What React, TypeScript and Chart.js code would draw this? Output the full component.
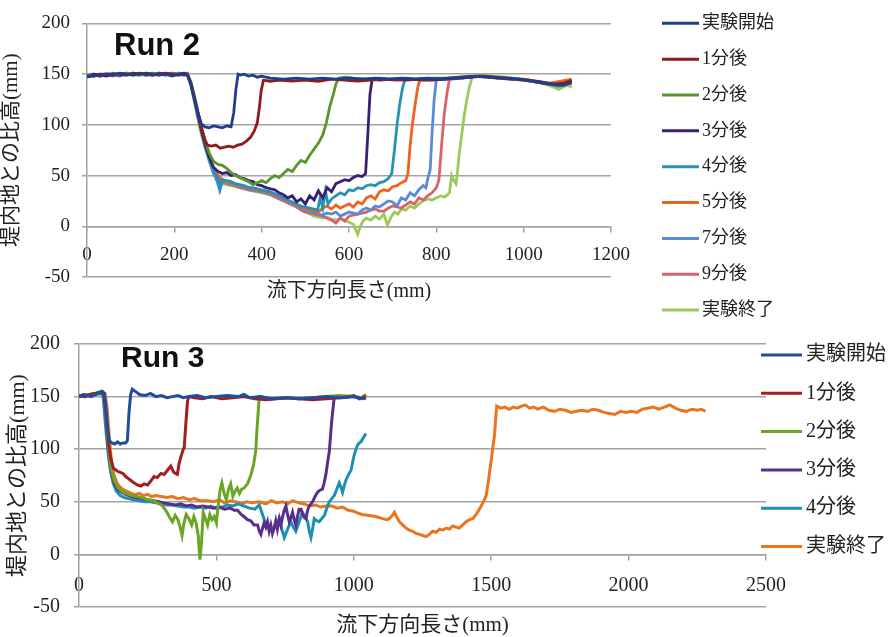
import React, { useEffect, useRef } from 'react';
import { Chart, registerables } from 'chart.js';

Chart.register(...registerables);

const FONT = "'Liberation Serif', 'Noto Sans CJK JP', serif";
const GRID = '#a3a3a3';
const TEXT = '#222222';
const Y_TITLE = '堤内地との比高(mm)';
const X_TITLE = '流下方向長さ(mm)';

type P = [number, number];

// ---------------- Run 2 ----------------
const RUN2_LABELS = ['実験開始', '1分後', '2分後', '3分後', '4分後', '5分後', '7分後', '9分後', '実験終了'];
const RUN2_COLORS = ['#1F3C8F', '#8E1B1E', '#5A962B', '#3A1F73', '#2793B4', '#EB6420', '#5B8BD6', '#D8636B', '#9ACA5C'];

const R2_START: P[] = [[0,147],[15,149],[30,148],[45,150],[60,149],[75,151],[90,150],[105,149],[120,150],[135,151],[150,150],[165,149],[180,150],[195,148],[210,150],[222,151],[230,149],[238,140],[246,126],[254,112],[262,101],[270,98],[280,97],[290,99],[300,98],[310,97],[320,99],[330,98],[336,112],[341,135],[346,150],[352,149],[360,150],[370,148],[380,149],[390,147],[400,148],[420,146],[450,145],[480,146],[510,145],[540,146],[570,145],[600,146],[630,145],[660,146],[690,145],[720,146],[750,145],[780,146],[810,145],[840,146],[870,147],[900,148],[930,147],[960,146],[990,145],[1020,143],[1050,141],[1070,140],[1090,139],[1110,142]];
const R2_M1: P[] = [[0,148],[15,148],[30,150],[45,149],[60,150],[75,150],[90,149],[105,150],[120,151],[135,150],[150,149],[165,150],[180,151],[195,150],[210,149],[222,150],[230,149],[238,141],[246,127],[254,112],[262,97],[270,85],[276,80],[285,79],[295,80],[305,77],[315,78],[325,79],[335,78],[345,80],[355,81],[365,84],[375,88],[383,94],[390,102],[395,118],[399,134],[404,144],[420,143],[440,144],[470,143],[500,144],[530,143],[560,145],[590,144],[620,143],[650,144],[680,145],[710,144],[740,145],[770,144],[800,145],[830,146],[860,147],[890,148],[920,147],[950,146],[980,145],[1010,144],[1040,142],[1070,140],[1090,141],[1110,144]];
const R2_M2: P[] = [[0,149],[15,148],[30,149],[45,150],[60,149],[75,150],[90,151],[105,150],[120,149],[135,150],[150,151],[165,150],[180,149],[195,150],[210,151],[222,149],[230,150],[238,142],[246,128],[254,113],[262,98],[270,86],[280,72],[290,64],[300,61],[310,60],[320,57],[330,53],[340,50],[350,48],[360,46],[370,44],[380,41],[390,43],[400,45],[410,43],[420,47],[430,50],[440,48],[450,52],[460,56],[470,54],[480,60],[490,65],[500,63],[510,70],[520,76],[530,82],[540,90],[548,102],[556,118],[564,130],[570,140],[576,146],[590,147],[610,146],[640,145],[670,146],[700,145],[730,146],[760,145],[790,146],[820,146],[850,147],[880,148],[910,147],[940,146],[970,145],[1000,144],[1030,142],[1060,140],[1085,139],[1110,141]];
const R2_M3: P[] = [[0,148],[15,150],[30,149],[45,148],[60,150],[75,149],[90,150],[105,151],[120,150],[135,149],[150,150],[165,151],[180,150],[195,149],[210,150],[222,151],[230,150],[238,141],[246,126],[254,110],[262,95],[270,82],[280,68],[290,58],[300,54],[310,52],[320,53],[330,50],[340,51],[350,48],[360,47],[370,45],[380,44],[390,41],[400,40],[410,38],[420,37],[430,36],[440,33],[450,31],[460,28],[470,30],[480,24],[490,27],[500,22],[510,30],[520,26],[530,35],[540,28],[550,38],[560,34],[570,42],[580,44],[590,46],[600,45],[610,48],[620,50],[630,49],[638,52],[643,90],[648,130],[653,145],[670,144],[700,145],[730,144],[760,145],[790,144],[820,145],[850,146],[880,147],[910,148],[940,146],[970,145],[1000,144],[1030,142],[1060,140],[1085,139],[1110,143]];
const R2_M4: P[] = [[0,149],[15,150],[30,148],[45,149],[60,151],[75,150],[90,149],[105,150],[120,150],[135,151],[150,149],[165,150],[180,150],[195,151],[210,150],[222,149],[230,150],[238,140],[246,125],[254,109],[262,94],[270,80],[280,66],[290,54],[300,47],[305,38],[310,46],[320,45],[330,44],[340,42],[350,41],[360,40],[370,38],[380,38],[390,37],[400,36],[410,35],[420,34],[430,32],[440,30],[450,28],[460,26],[470,24],[480,22],[490,20],[500,19],[510,18],[520,17],[528,16],[534,28],[540,18],[546,35],[552,22],[560,27],[570,30],[580,33],[590,31],[600,36],[610,35],[620,38],[630,37],[640,40],[650,41],[660,40],[670,43],[680,44],[690,47],[698,52],[704,75],[710,100],[716,120],[722,135],[728,145],[750,145],[780,144],[810,145],[840,146],[870,147],[900,148],[930,147],[960,146],[990,145],[1020,143],[1050,141],[1080,138],[1110,141]];
const R2_M5: P[] = [[0,148],[15,149],[30,150],[45,149],[60,148],[75,150],[90,151],[105,149],[120,150],[135,150],[150,149],[165,151],[180,150],[195,149],[210,150],[222,150],[230,149],[238,140],[246,126],[254,110],[262,95],[270,81],[280,68],[290,56],[300,50],[310,46],[320,44],[330,42],[340,41],[350,40],[360,39],[370,38],[380,37],[390,36],[400,35],[410,34],[420,33],[430,31],[440,29],[450,27],[460,25],[470,23],[480,21],[490,19],[500,17],[510,16],[520,15],[530,14],[540,18],[550,20],[560,17],[570,21],[580,18],[590,20],[600,22],[610,19],[620,24],[630,22],[640,28],[650,30],[660,27],[670,34],[680,36],[690,35],[700,39],[710,40],[720,43],[730,45],[735,52],[740,80],[745,100],[752,122],[758,138],[764,146],[790,145],[820,145],[850,146],[880,147],[910,148],[940,147],[970,146],[1000,145],[1030,143],[1060,141],[1085,143],[1110,145]];
const R2_M7: P[] = [[0,149],[15,148],[30,150],[45,150],[60,149],[75,148],[90,150],[105,151],[120,150],[135,149],[150,150],[165,150],[180,149],[195,151],[210,150],[222,149],[230,150],[238,139],[246,124],[254,108],[262,93],[270,79],[280,65],[290,52],[298,44],[304,35],[310,44],[320,43],[330,41],[340,40],[350,39],[360,38],[370,37],[380,36],[390,35],[400,34],[410,33],[420,32],[430,30],[440,28],[450,26],[460,24],[470,22],[480,20],[490,17],[500,15],[510,14],[520,13],[530,12],[540,11],[550,13],[560,12],[570,14],[580,10],[590,12],[600,14],[610,13],[620,12],[630,16],[640,18],[650,16],[660,20],[670,19],[680,22],[690,25],[700,24],[710,20],[720,28],[730,26],[740,33],[750,30],[760,36],[770,40],[776,38],[781,48],[786,56],[790,90],[795,125],[800,145],[830,145],[860,146],[890,148],[920,147],[950,146],[980,145],[1010,144],[1040,142],[1070,140],[1090,141],[1110,143]];
const R2_M9: P[] = [[0,148],[15,149],[30,149],[45,150],[60,150],[75,149],[90,151],[105,150],[120,149],[135,150],[150,150],[165,149],[180,151],[195,150],[210,149],[222,150],[230,151],[238,141],[246,125],[254,109],[262,94],[270,80],[280,66],[290,53],[300,47],[310,44],[320,42],[330,41],[340,40],[350,38],[360,37],[370,36],[380,35],[390,35],[400,34],[410,33],[420,31],[430,29],[440,27],[450,25],[460,23],[470,21],[480,19],[490,16],[500,14],[510,13],[520,12],[530,11],[540,10],[550,8],[560,6],[570,3],[580,8],[590,5],[600,10],[610,11],[620,12],[630,13],[640,14],[650,16],[660,17],[670,15],[680,15],[690,18],[700,20],[710,19],[720,18],[730,21],[740,24],[750,22],[760,28],[770,26],[780,30],[790,33],[800,38],[806,46],[812,80],[818,110],[824,130],[830,145],[860,146],[890,148],[920,147],[950,146],[980,145],[1010,144],[1040,142],[1070,140],[1090,142],[1110,144]];
const R2_END: P[] = [[0,148],[15,150],[30,149],[45,151],[60,150],[75,149],[90,150],[105,150],[120,151],[135,150],[150,149],[165,150],[180,150],[195,149],[210,151],[222,150],[230,150],[238,138],[246,122],[254,106],[262,90],[270,78],[280,64],[290,52],[300,46],[310,42],[320,41],[330,40],[340,39],[350,38],[360,37],[370,36],[380,35],[390,34],[400,33],[410,32],[420,31],[430,30],[440,28],[450,26],[460,24],[470,22],[480,20],[490,18],[500,15],[510,12],[520,10],[530,9],[540,8],[550,9],[560,7],[570,6],[580,8],[590,6],[600,4],[610,2],[615,-3],[620,-8],[626,0],[632,5],[640,8],[650,6],[660,10],[670,7],[680,12],[688,1],[696,9],[704,14],[712,12],[720,17],[730,16],[740,20],[750,18],[760,22],[770,25],[780,27],[790,26],[800,28],[810,30],[820,29],[830,33],[835,50],[840,45],[845,42],[848,52],[852,70],[858,90],[864,110],[870,125],[876,138],[882,147],[900,149],[930,148],[960,147],[990,145],[1020,143],[1050,140],[1070,137],[1080,135],[1090,137],[1100,139],[1110,137]];

const RUN2_SERIES = [R2_START, R2_M1, R2_M2, R2_M3, R2_M4, R2_M5, R2_M7, R2_M9, R2_END];
const RUN2_X_TICKS = { min: 0, max: 1200, step: 200 };

// ---------------- Run 3 ----------------
const RUN3_LABELS = ['実験開始', '1分後', '2分後', '3分後', '4分後', '実験終了'];
const RUN3_COLORS = ['#1F4E9E', '#A21E22', '#6BA525', '#58308C', '#1F8FB5', '#E87520'];

const R3_START: P[] = [[0,150],[15,152],[30,151],[45,150],[60,152],[75,154],[85,155],[92,153],[98,140],[104,120],[110,108],[120,106],[130,105],[140,107],[150,105],[160,106],[170,106],[176,108],[182,135],[188,152],[194,157],[205,155],[220,152],[240,151],[260,153],[280,150],[300,151],[320,149],[340,150],[360,151],[380,149],[400,150],[430,151],[460,149],[500,150],[540,151],[580,150],[600,152],[620,149],[660,150],[700,148],[750,149],[800,148],[850,149],[900,150],[950,149],[1000,150],[1025,148],[1040,149]];
const R3_M1: P[] = [[0,151],[20,150],[40,152],[60,153],[80,154],[90,152],[96,140],[102,122],[108,105],[115,92],[125,82],[140,79],[150,78],[160,77],[170,74],[180,72],[190,70],[200,68],[212,66],[225,65],[237,67],[250,66],[262,70],[273,74],[285,73],[298,77],[310,76],[322,80],[334,84],[345,78],[358,76],[364,86],[371,93],[377,98],[383,102],[389,125],[395,146],[400,150],[420,149],[450,148],[480,150],[520,148],[560,149],[600,150],[640,148],[680,147],[720,148],[760,149],[800,148],[850,147],[900,148],[950,149],[1000,150],[1030,148],[1042,151]];
const R3_M2: P[] = [[0,151],[20,150],[40,152],[60,153],[80,155],[92,152],[98,135],[104,112],[110,95],[118,80],[128,70],[140,64],[155,60],[170,58],[190,56],[210,55],[230,54],[250,52],[270,51],[285,49],[300,47],[310,44],[320,40],[330,35],[340,31],[350,37],[360,33],[368,26],[375,18],[382,30],[390,38],[400,34],[410,28],[418,36],[426,30],[434,18],[440,-5],[446,12],[452,40],[460,34],[468,28],[476,38],[484,33],[492,36],[500,30],[507,48],[514,62],[520,68],[528,58],[536,52],[544,62],[552,67],[560,55],[568,60],[576,63],[584,58],[592,62],[600,63],[613,67],[625,75],[635,85],[643,98],[648,120],[652,135],[656,150],[680,149],[700,148],[750,149],[800,148],[850,149],[900,150],[950,151],[1000,150],[1030,149],[1045,152]];
const R3_M3: P[] = [[0,150],[20,151],[40,152],[60,153],[80,154],[92,151],[98,134],[104,110],[110,92],[118,78],[128,68],[140,62],[155,59],[170,57],[190,55],[210,54],[230,53],[250,52],[270,51],[290,50],[310,49],[330,48],[350,47],[370,48],[390,46],[410,47],[430,45],[450,46],[470,45],[490,44],[510,45],[530,43],[550,44],[565,42],[577,42],[590,38],[600,36],[613,33],[625,32],[637,28],[650,28],[656,22],[662,19],[668,25],[674,30],[680,26],[686,31],[692,22],[698,28],[704,20],[710,25],[716,32],[722,24],[729,34],[735,28],[741,36],[747,42],[753,46],[759,38],[765,31],[771,35],[777,40],[783,33],[789,28],[795,36],[801,43],[808,43],[814,38],[820,35],[826,34],[832,42],[838,46],[844,48],[850,50],[859,55],[868,59],[877,61],[886,62],[892,68],[899,77],[905,88],[911,98],[916,115],[920,128],[925,140],[929,150],[945,151],[960,149],[980,150],[1000,151],[1020,148],[1035,150],[1042,147]];
const R3_M4: P[] = [[0,151],[20,150],[40,151],[60,152],[80,153],[88,150],[94,130],[100,112],[106,96],[114,80],[124,68],[136,60],[150,56],[165,54],[180,53],[200,52],[220,51],[240,50],[260,50],[280,49],[300,48],[320,47],[340,47],[360,46],[380,45],[400,45],[420,44],[440,45],[460,44],[480,46],[500,44],[520,45],[540,47],[560,46],[580,48],[589,47],[600,46],[620,44],[640,43],[656,47],[668,38],[680,28],[692,25],[704,22],[716,28],[729,34],[738,24],[747,16],[759,24],[771,31],[780,26],[789,22],[800,30],[813,40],[822,36],[832,31],[838,22],[844,16],[850,24],[856,34],[865,32],[874,31],[883,34],[893,37],[902,44],[911,50],[920,53],[929,56],[938,62],[947,68],[953,64],[959,59],[965,65],[972,71],[981,76],[990,80],[996,88],[1002,95],[1008,100],[1014,104],[1020,106],[1026,107],[1035,111],[1044,115]];
const R3_END: P[] = [[0,150],[20,152],[40,151],[60,153],[80,154],[95,153],[102,140],[108,120],[114,100],[120,85],[128,75],[138,68],[150,64],[165,61],[176,60],[190,58],[205,57],[220,58],[235,56],[250,57],[265,55],[280,56],[300,55],[320,54],[340,55],[360,53],[380,54],[400,52],[420,53],[440,51],[467,51],[490,50],[510,52],[530,49],[550,51],[570,50],[590,48],[610,50],[630,49],[656,50],[680,48],[700,51],[720,49],[740,50],[760,48],[777,51],[800,49],[820,48],[838,46],[860,47],[880,45],[899,46],[920,46],[940,44],[959,45],[980,42],[1000,41],[1008,40],[1030,38],[1056,37],[1080,36],[1105,34],[1120,33],[1129,34],[1140,37],[1148,40],[1157,35],[1166,31],[1178,28],[1190,25],[1202,23],[1214,22],[1226,20],[1239,19],[1251,18],[1263,17],[1275,19],[1287,22],[1300,21],[1312,24],[1324,23],[1336,25],[1348,24],[1360,27],[1372,26],[1384,25],[1396,28],[1409,31],[1421,33],[1433,34],[1445,38],[1457,43],[1470,49],[1482,56],[1490,70],[1495,80],[1500,89],[1506,102],[1512,113],[1516,128],[1520,141],[1535,139],[1550,140],[1565,138],[1580,140],[1595,139],[1610,141],[1625,142],[1640,139],[1655,140],[1670,138],[1690,140],[1710,137],[1730,136],[1750,138],[1770,137],[1790,135],[1810,136],[1830,137],[1850,136],[1870,138],[1890,137],[1910,135],[1930,134],[1950,133],[1970,136],[1990,135],[2010,136],[2030,135],[2050,138],[2070,139],[2090,140],[2110,138],[2130,140],[2150,142],[2170,139],[2190,137],[2210,136],[2230,138],[2250,137],[2265,138],[2280,136]];

const RUN3_SERIES = [R3_START, R3_M1, R3_M2, R3_M3, R3_M4, R3_END];
const RUN3_X_TICKS = { min: 0, max: 2500, step: 500 };

const Y_TICKS = { min: -50, max: 200, step: 50 };

// annotation plugin: run label, x-axis title, legend
const annotPlugin = {
  id: 'annot',
  afterDraw(chart: any, _args: any, o: any) {
    const ctx = chart.ctx as CanvasRenderingContext2D;
    const ca = chart.chartArea;
    ctx.save();
    ctx.fillStyle = '#111';
    ctx.textAlign = 'left';
    ctx.textBaseline = 'alphabetic';
    ctx.font = `bold ${o.runSize}px 'Liberation Sans', Arial, sans-serif`;
    ctx.fillText(o.run, ca.left + o.runDx, ca.top + o.runDy);

    ctx.fillStyle = TEXT;
    ctx.textAlign = 'center';
    ctx.textBaseline = 'middle';
    ctx.font = `${o.xTitleSize}px ${FONT}`;
    ctx.fillText(X_TITLE, (ca.left + ca.right) / 2, ca.bottom + o.xTitleDy);

    chart.data.datasets.forEach((ds: any, i: number) => {
      const y = o.legY + i * o.legStep;
      ctx.strokeStyle = ds.borderColor;
      ctx.lineWidth = 3;
      ctx.beginPath();
      ctx.moveTo(o.legX, y);
      ctx.lineTo(o.legX + o.legLen, y);
      ctx.stroke();
      ctx.fillStyle = TEXT;
      ctx.textAlign = 'left';
      ctx.textBaseline = 'middle';
      ctx.font = `${o.legSize}px ${FONT}`;
      ctx.fillText(ds.label, o.legX + o.legLen + o.legGap, y);
    });
    ctx.restore();
  },
};

type PanelCfg = {
  top: number;
  height: number;
  labels: string[];
  colors: string[];
  series: P[][];
  xTicks: { min: number; max: number; step: number };
  pad: { top: number; right: number; bottom: number };
  yWidth: number;
  tickSize: number;
  xTickPad: number;
  yTickPad: number;
  yTitleSize: number;
  yTitlePad: number;
  lineWidth: number;
  annot: any;
};

const plain = (v: any) => String(v);

function Panel({ cfg }: { cfg: PanelCfg }) {
  const ref = useRef<HTMLCanvasElement>(null);
  useEffect(() => {
    const tickFont = { family: FONT, size: cfg.tickSize };
    const chart = new Chart(ref.current as HTMLCanvasElement, {
      type: 'line',
      data: {
        datasets: cfg.series.map((s, i) => ({
          label: cfg.labels[i],
          data: s.map(([x, y]) => ({ x, y })),
          borderColor: cfg.colors[i],
          backgroundColor: cfg.colors[i],
          borderWidth: cfg.lineWidth,
          pointRadius: 0,
          fill: false,
          tension: 0,
        })),
      },
      options: {
        animation: false,
        responsive: false,
        maintainAspectRatio: false,
        layout: { padding: { left: 0, top: cfg.pad.top, right: cfg.pad.right, bottom: cfg.pad.bottom } },
        plugins: {
          legend: { display: false },
          tooltip: { enabled: false },
          annot: cfg.annot,
        } as any,
        scales: {
          x: {
            type: 'linear',
            position: { y: 0 } as any,
            min: cfg.xTicks.min,
            max: cfg.xTicks.max,
            afterFit: (s: any) => { s.height = 0; },
            ticks: { stepSize: cfg.xTicks.step, font: tickFont, color: TEXT, padding: cfg.xTickPad, maxRotation: 0, autoSkip: false, callback: plain },
            grid: { display: true, drawOnChartArea: false, drawTicks: true, tickLength: 5, color: GRID, lineWidth: 1.5 },
            border: { display: true, color: GRID, width: 1.5 },
          },
          y: {
            type: 'linear',
            position: 'left',
            min: Y_TICKS.min,
            max: Y_TICKS.max,
            afterFit: (s: any) => { s.width = cfg.yWidth; },
            ticks: { stepSize: Y_TICKS.step, font: tickFont, color: TEXT, padding: cfg.yTickPad, callback: plain },
            grid: { color: GRID, lineWidth: 1.5, drawTicks: true, tickLength: 5 },
            border: { display: true, color: GRID, width: 1.5 },
            title: {
              display: true,
              text: Y_TITLE,
              color: TEXT,
              font: { family: FONT, size: cfg.yTitleSize, lineHeight: 1 },
              padding: { top: cfg.yTitlePad, bottom: 0 },
            },
          },
        } as any,
      },
      plugins: [annotPlugin as any],
    });
    return () => chart.destroy();
  }, []);
  return (
    <canvas
      ref={ref}
      width={890}
      height={cfg.height}
      style={{ position: 'absolute', left: 0, top: cfg.top, width: 890, height: cfg.height }}
    />
  );
}

const TOP_CFG: PanelCfg = {
  top: 0,
  height: 326,
  labels: RUN2_LABELS,
  colors: RUN2_COLORS,
  series: RUN2_SERIES,
  xTicks: RUN2_X_TICKS,
  pad: { top: 17, right: 279, bottom: 49 },
  yWidth: 87,
  tickSize: 19,
  xTickPad: 12,
  yTickPad: 12,
  yTitleSize: 21,
  yTitlePad: 1,
  lineWidth: 2.8,
  annot: {
    run: 'Run 2', runSize: 31, runDx: 27, runDy: 32,
    xTitleSize: 20, xTitleDy: 15,
    legX: 662, legY: 23.3, legStep: 35.85, legLen: 37, legGap: 3, legSize: 18,
  },
};

const BOTTOM_CFG: PanelCfg = {
  top: 318,
  height: 319,
  labels: RUN3_LABELS,
  colors: RUN3_COLORS,
  series: RUN3_SERIES,
  xTicks: RUN3_X_TICKS,
  pad: { top: 13, right: 124, bottom: 30 },
  yWidth: 79,
  tickSize: 20,
  xTickPad: 14,
  yTickPad: 14,
  yTitleSize: 22,
  yTitlePad: 7,
  lineWidth: 3,
  annot: {
    run: 'Run 3', runSize: 30, runDx: 42, runDy: 23,
    xTitleSize: 21, xTitleDy: 18,
    legX: 761, legY: 37, legStep: 38.3, legLen: 41, legGap: 4, legSize: 20,
  },
};

export default function App() {
  return (
    <div style={{ position: 'absolute', left: 0, top: 0, width: 890, height: 637, background: '#ffffff', overflow: 'hidden' }}>
      <Panel cfg={TOP_CFG} />
      <Panel cfg={BOTTOM_CFG} />
    </div>
  );
}
